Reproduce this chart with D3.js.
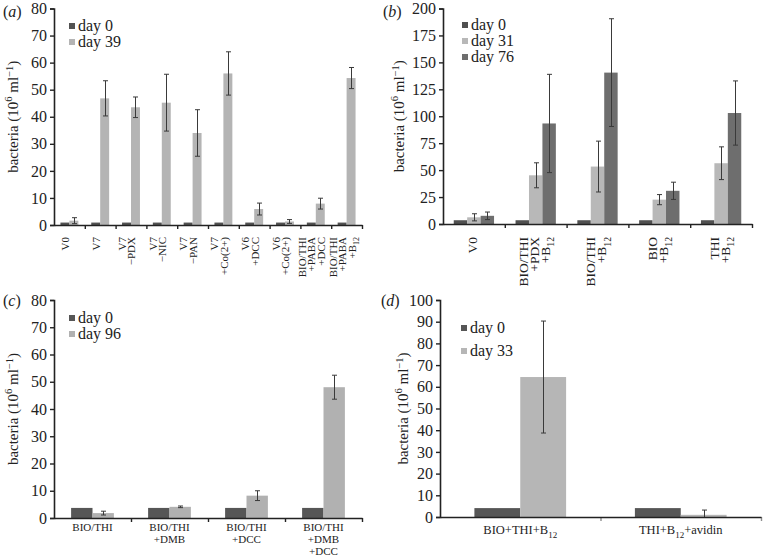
<!DOCTYPE html>
<html>
<head>
<meta charset="utf-8">
<script src="https://cdn.jsdelivr.net/npm/d3@7"></script>
<style>
  html, body { margin: 0; padding: 0; background: #fff; }
  svg { display: block; }
  text { font-family: "Liberation Serif", "Times New Roman", serif; fill: #222; }
</style>
</head>
<body>
<svg id="chart" width="763" height="558" font-family="'Liberation Serif', 'Times New Roman', serif"></svg>
<script>
// ---------------- DATA ----------------
// Panel (a)
const aCategories = [["V0"], ["V7"], ["V7", "\u2212PDX"], ["V7", "\u2212NIC"], ["V7", "\u2212PAN"], ["V7", "+Co(2+)"],
  ["V6", "+DCC"], ["V6", "+Co(2+)"], ["BIO/THI", "+PABA", "+DCC"], ["BIO/THI", "+PABA", "+B_12"]];
const aSeries = ["day 0", "day 39"];
const aDay0 = [0.9, 0.9, 0.9, 0.9, 0.9, 0.9, 0.9, 0.9, 0.9, 0.9];
const aDay39 = [1.6, 46.8, 43.5, 45.2, 34.0, 56.0, 5.9, 1.3, 7.9, 54.3];
const aDay39Err = [1.1, 6.5, 3.8, 10.5, 8.6, 8.0, 2.2, 0.7, 2.0, 3.9];
const aTicks = [0, 10, 20, 30, 40, 50, 60, 70, 80];

// Panel (b)
const bCategories = [["V0"], ["BIO/THI", "+PDX", "+B_12"], ["BIO/THI", "+B_12"], ["BIO", "+B_12"], ["THI", "+B_12"]];
const bSeries = ["day 0", "day 31", "day 76"];
const bDay0 = [3.5, 3.5, 3.5, 3.5, 3.5];
const bDay31 = [6.2, 45.2, 53.3, 22.6, 56.4];
const bDay31Err = [3.3, 11.6, 23.6, 4.7, 15.2];
const bDay76 = [7.6, 93.3, 140.5, 30.8, 103.0];
const bDay76Err = [3.5, 45.6, 50.0, 8.0, 29.8];
const bTicks = [0, 25, 50, 75, 100, 125, 150, 175, 200];

// Panel (c)
const cCategories = [["BIO/THI"], ["BIO/THI", "+DMB"], ["BIO/THI", "+DCC"], ["BIO/THI", "+DMB", "+DCC"]];
const cSeries = ["day 0", "day 96"];
const cDay0 = [3.7, 3.7, 3.7, 3.7];
const cDay96 = [1.8, 4.1, 8.2, 48.0];
const cDay96Err = [0.7, 0.3, 1.8, 4.4];
const cTicks = [0, 10, 20, 30, 40, 50, 60, 70, 80];

// Panel (d)
const dCategories = [["BIO+THI+B_12"], ["THI+B_12+avidin"]];
const dSeries = ["day 0", "day 33"];
const dDay0 = [4.1, 4.1];
const dDay33 = [64.5, 1.0];
const dDay33Err = [25.8, 2.2];
const dTicks = [0, 10, 20, 30, 40, 50, 60, 70, 80, 90, 100];

// ---------------- DRAWING ----------------
const FONT = "'Liberation Serif', 'Times New Roman', serif";
const svg = d3.select("#chart");

// append one line (as tspans) with "_12" style subscripts; first tspan gets x / y position
function richLine(sel, str, fontSize, x, y) {
  const parts = str.split(/_(\d+)/);
  const subSize = fontSize * 0.72;
  const shift = fontSize * 0.3;
  let pendingUp = 0;
  let first = true;
  parts.forEach((p, i) => {
    if (p === "") return;
    const t = sel.append("tspan");
    if (first) { t.attr("x", x).attr("y", y); first = false; }
    if (i % 2 === 1) {
      t.attr("font-size", subSize).attr("dy", shift).text(p);
      pendingUp = shift;
    } else {
      t.text(p);
      if (pendingUp) { t.attr("dy", -pendingUp); pendingUp = 0; }
    }
  });
}

function drawPanel(cfg) {
  const g = svg.append("g");
  const n = cfg.categories.length;
  const x0 = d3.scaleBand().domain(d3.range(n)).range([cfg.left, cfg.right]).paddingInner(0).paddingOuter(0);
  const x1 = d3.scaleBand().domain(cfg.series).range([0, x0.bandwidth()]).paddingInner(0).paddingOuter(cfg.groupPad);
  const y = d3.scaleLinear().domain([0, cfg.ymax]).range([cfg.bottom, cfg.top]);
  const color = d3.scaleOrdinal().domain(cfg.series).range(cfg.colors);

  // bars
  cfg.series.forEach((s, si) => {
    const vals = cfg.values[si];
    g.append("g").selectAll("rect").data(vals).join("rect")
      .attr("x", (d, i) => x0(i) + x1(s))
      .attr("y", d => y(d))
      .attr("width", x1.bandwidth())
      .attr("height", d => y(0) - y(d))
      .attr("fill", color(s));
  });

  // error bars
  cfg.series.forEach((s, si) => {
    const errs = cfg.errors[si];
    if (!errs) return;
    const vals = cfg.values[si];
    const eg = g.append("g").attr("stroke", "#3a3a3a").attr("stroke-width", 1).attr("fill", "none");
    vals.forEach((v, i) => {
      const e = errs[i];
      const cx = Math.round(x0(i) + x1(s) + x1.bandwidth() / 2) + 0.5;
      const lo = y(Math.max(0, v - e)), hi = y(v + e);
      eg.append("line").attr("x1", cx).attr("x2", cx).attr("y1", lo).attr("y2", hi);
      eg.append("line").attr("x1", cx - 2.5).attr("x2", cx + 2.5).attr("y1", hi).attr("y2", hi);
      if (v - e > 0) eg.append("line").attr("x1", cx - 2.5).attr("x2", cx + 2.5).attr("y1", lo).attr("y2", lo);
    });
  });

  // y axis
  const yAxis = d3.axisLeft(y).tickValues(cfg.ticks).tickSize(4).tickPadding(3).tickFormat(d3.format("d"));
  const ya = g.append("g").attr("transform", `translate(${cfg.left},0)`).call(yAxis)
    .attr("font-family", FONT).attr("font-size", 16);
  ya.select(".domain").attr("stroke", "#222").attr("stroke-width", 1.6);
  ya.selectAll(".tick line").attr("stroke", "#222").attr("stroke-width", 1.4);
  ya.selectAll(".tick text").attr("font-size", 16).attr("font-family", FONT).attr("fill", "#222");

  // x axis: line with ticks at band boundaries
  const xl = d3.scaleLinear().domain([0, n]).range([cfg.left, cfg.right]);
  const xAxis = d3.axisBottom(xl).tickValues(d3.range(1, n + 1)).tickSize(4).tickSizeOuter(0).tickFormat("");
  const xa = g.append("g").attr("transform", `translate(0,${cfg.bottom})`).call(xAxis);
  xa.select(".domain").attr("stroke", "#222").attr("stroke-width", 1.6);
  xa.selectAll(".tick line").attr("stroke", "#222").attr("stroke-width", 1.4).attr("opacity", cfg.xTickOpacity || 1);

  // x labels (one text element per category, lines as tspans)
  cfg.categories.forEach((lines, i) => {
    const cx = x0(i) + x0.bandwidth() / 2 + (cfg.labelDx || 0);
    if (cfg.rotated) {
      const t = g.append("text").attr("transform", `translate(${cx},${cfg.labelTop}) rotate(-90)`)
        .attr("text-anchor", "end").attr("font-family", FONT).attr("font-size", cfg.labelFont);
      lines.forEach((ln, li) => {
        const off = (li - (lines.length - 1) / 2) * cfg.lineSpacing + cfg.labelFont * 0.33;
        richLine(t, ln, cfg.labelFont, 0, off);
      });
    } else {
      const t = g.append("text").attr("text-anchor", "middle")
        .attr("font-family", FONT).attr("font-size", cfg.labelFont);
      lines.forEach((ln, li) => {
        richLine(t, ln, cfg.labelFont, cx, cfg.labelTop + li * cfg.lineSpacing);
      });
    }
  });

  // y title
  const yt = g.append("text").attr("transform", `translate(${cfg.titleX},${(cfg.top + cfg.bottom) / 2}) rotate(-90)`)
    .attr("text-anchor", "middle").attr("font-family", FONT).attr("font-size", 15);
  yt.append("tspan").text("bacteria (10");
  yt.append("tspan").attr("font-size", 10.5).attr("dy", -6).text("6");
  yt.append("tspan").attr("dy", 6).text(" ml");
  yt.append("tspan").attr("font-size", 10.5).attr("dy", -5).text("\u22121");
  yt.append("tspan").attr("dy", 5).text(")");

  // panel label
  const pl = g.append("text").attr("x", cfg.panelX).attr("y", cfg.panelY)
    .attr("font-family", FONT).attr("font-size", 16);
  pl.append("tspan").text("(");
  pl.append("tspan").attr("font-style", "italic").text(cfg.panel);
  pl.append("tspan").text(")");

  // legend
  cfg.series.forEach((s, si) => {
    const ly = cfg.legendY + si * cfg.legendStep;
    g.append("rect").attr("x", cfg.legendX).attr("y", ly - 3).attr("width", 6).attr("height", 6).attr("fill", color(s));
    g.append("text").attr("x", cfg.legendX + 9).attr("y", ly + 5)
      .attr("font-family", FONT).attr("font-size", 16).text(s);
  });
}

drawPanel({
  panel: "a", categories: aCategories, series: aSeries,
  values: [aDay0, aDay39], errors: [null, aDay39Err],
  colors: ["#525252", "#b4b4b4"], ymax: 80, ticks: aTicks,
  left: 54, right: 362, top: 8.5, bottom: 225, groupPad: 0.72,
  rotated: true, labelTop: 237, labelFont: 11, lineSpacing: 9.5, labelDx: -4,
  titleX: 18, panelX: 3, panelY: 17,
  legendX: 69, legendY: 26, legendStep: 16
});

drawPanel({
  panel: "b", categories: bCategories, series: bSeries,
  values: [bDay0, bDay31, bDay76], errors: [null, bDay31Err, bDay76Err],
  colors: ["#505050", "#b8b8b8", "#6e6e6e"], ymax: 200, ticks: bTicks,
  left: 443, right: 752, top: 8.5, bottom: 224, groupPad: 0.8,
  rotated: true, labelTop: 237, labelFont: 13.5, lineSpacing: 11, labelDx: -1,
  titleX: 404, panelX: 383, panelY: 17,
  legendX: 462, legendY: 25, legendStep: 16
});

drawPanel({
  panel: "c", categories: cCategories, series: cSeries,
  values: [cDay0, cDay96], errors: [null, cDay96Err],
  colors: ["#565656", "#b1b1b1"], ymax: 80, ticks: cTicks,
  left: 54, right: 362, top: 300, bottom: 518, groupPad: 0.8,
  rotated: false, labelTop: 531, labelFont: 11, lineSpacing: 12.2,
  titleX: 18, panelX: 3, panelY: 306,
  legendX: 69, legendY: 318, legendStep: 16
});

drawPanel({
  panel: "d", categories: dCategories, series: dSeries,
  values: [dDay0, dDay33], errors: [null, dDay33Err],
  colors: ["#565656", "#b6b6b6"], ymax: 100, ticks: dTicks,
  left: 440, right: 761, top: 300, bottom: 517, groupPad: 0.75,
  rotated: false, labelTop: 534, labelFont: 12.5, lineSpacing: 11, xTickOpacity: 0.5,
  titleX: 408, panelX: 381, panelY: 306,
  legendX: 461, legendY: 328, legendStep: 23
});
</script>
</body>
</html>
